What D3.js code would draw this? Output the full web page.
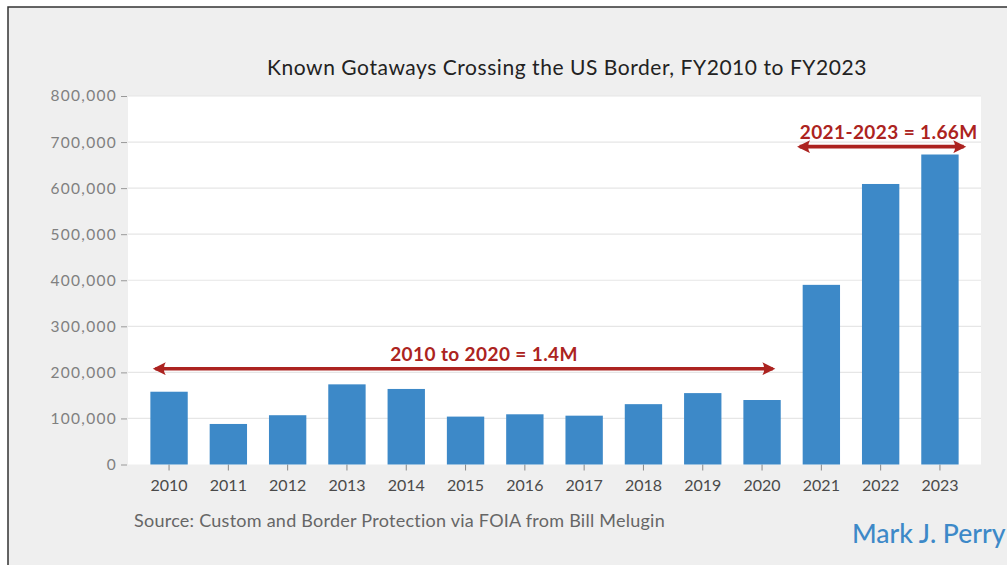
<!DOCTYPE html>
<html>
<head>
<meta charset="utf-8">
<script src="https://cdn.jsdelivr.net/npm/d3@7"></script>
<style>
  body { margin: 0; background: #fff; }
  svg { display: block; font-family: Lato, "Open Sans", sans-serif; }
</style>
</head>
<body>
<script>
// data
var years = ["2010","2011","2012","2013","2014","2015","2016","2017","2018","2019","2020","2021","2022","2023"];
var gotaways = [158000, 88000, 107000, 174000, 164000, 104000, 109000, 106000, 131000, 155000, 140000, 390000, 609000, 673000];
var yTicks = [0, 100000, 200000, 300000, 400000, 500000, 600000, 700000, 800000];
var spans = [
  {from: "2010", to: "2020", level: 208000, label: "2010 to 2020 = 1.4M"},
  {from: "2021", to: "2023", level: 690000, label: "2021-2023 = 1.66M"}
];

function init(){
    var w = 1007, h = 565;

    var svg = d3.select("body").append("svg")
        .attr("width", w)
        .attr("height", h);

    // frame
    svg.append("rect")
        .attr("x", 8).attr("y", 7)
        .attr("width", w).attr("height", h)
        .attr("fill", "#efefef")
        .attr("stroke", "#333")
        .attr("stroke-width", 1.5);

    var x = d3.scaleBand()
        .domain(years)
        .range([139.4, 969.6])
        .paddingInner(0.37)
        .paddingOuter(0.185);

    var y = d3.scaleLinear()
        .domain([0, 800000])
        .range([464.5, 96]);

    // plot area
    svg.append("rect")
        .attr("x", 128).attr("y", y(800000))
        .attr("width", 981 - 128)
        .attr("height", y(0) - y(800000))
        .attr("fill", "#fff");

    // grid lines
    svg.append("g").selectAll("line")
        .data(yTicks.slice(1))
        .enter().append("line")
        .attr("x1", 128).attr("x2", 981)
        .attr("y1", function(d){ return y(d); })
        .attr("y2", function(d){ return y(d); })
        .attr("stroke", "#e6e6e6")
        .attr("stroke-width", 1.2);

    // y axis
    var yAxis = svg.append("g")
        .attr("transform", "translate(127,0)")
        .call(d3.axisLeft(y).tickValues(yTicks).tickSize(6).tickPadding(4).tickFormat(d3.format(",")));
    yAxis.select(".domain").remove();
    yAxis.selectAll(".tick line").attr("stroke", "#999");
    yAxis.selectAll(".tick text")
        .attr("fill", "#808080")
        .style("font-size", "15.5px")
        .style("letter-spacing", "1.3px")
        .style("font-family", "Lato, sans-serif");

    // x axis
    var xAxis = svg.append("g")
        .attr("transform", "translate(0," + y(0) + ")")
        .call(d3.axisBottom(x).tickSize(6).tickPadding(9));
    xAxis.select(".domain").remove();
    xAxis.selectAll(".tick line").attr("stroke", "#888");
    xAxis.selectAll(".tick text")
        .attr("fill", "#4a4a4a")
        .style("font-size", "16px")
        .style("font-family", "Lato, sans-serif");

    // bars
    svg.append("g").selectAll("rect")
        .data(gotaways)
        .enter().append("rect")
        .attr("x", function(d, i){ return x(years[i]); })
        .attr("y", function(d){ return y(d); })
        .attr("width", x.bandwidth())
        .attr("height", function(d){ return y(0) - y(d); })
        .attr("fill", "#3d89c8");

    // arrows
    var red = "#ac2320";
    var defs = svg.append("defs");
    defs.append("marker")
        .attr("id", "head")
        .attr("viewBox", "0 0 10 10")
        .attr("refX", 8).attr("refY", 5)
        .attr("markerWidth", 4).attr("markerHeight", 3.6)
        .attr("orient", "auto-start-reverse")
        .attr("markerUnits", "strokeWidth")
        .append("path")
        .attr("d", "M0,0 L10,5 L0,10 Q3,5 0,0 Z")
        .attr("fill", red);

    var offs = [[-3, 0], [-11, 13]];
    var g = svg.append("g");
    spans.forEach(function(s, i){
        var x1 = x(s.from) + offs[i][0];
        var x2 = x(s.to) + x.bandwidth() + offs[i][1];
        g.append("line")
            .attr("x1", x1 + 8).attr("x2", x2 - 8)
            .attr("y1", y(s.level)).attr("y2", y(s.level))
            .attr("stroke", red)
            .attr("stroke-width", 3.6)
            .attr("marker-start", "url(#head)")
            .attr("marker-end", "url(#head)");
        g.append("text")
            .attr("x", i === 0 ? (x1 + x2) / 2 + 20 : x2 + 6)
            .attr("y", y(s.level) - 8)
            .attr("text-anchor", i === 0 ? "middle" : "end")
            .attr("fill", red)
            .style("font-size", "19px")
            .style("letter-spacing", "0.4px")
            .style("font-weight", "bold")
            .text(s.label);
    });

    // title
    svg.append("text")
        .attr("x", 567).attr("y", 75)
        .attr("text-anchor", "middle")
        .attr("fill", "#222")
        .style("font-size", "21px")
        .style("letter-spacing", "0.55px")
        .text("Known Gotaways Crossing the US Border, FY2010 to FY2023");

    // source
    svg.append("text")
        .attr("x", 134).attr("y", 527)
        .attr("fill", "#666")
        .style("font-size", "18px")
        .style("letter-spacing", "0.25px")
        .text("Source: Custom and Border Protection via FOIA from Bill Melugin");

    svg.append("text")
        .attr("x", 852).attr("y", 543)
        .attr("fill", "#3d89c8")
        .style("font-size", "26.5px")
        .style("font-weight", "500")
        .text("Mark J. Perry");
}
window.onload = init;
</script>
</body>
</html>
